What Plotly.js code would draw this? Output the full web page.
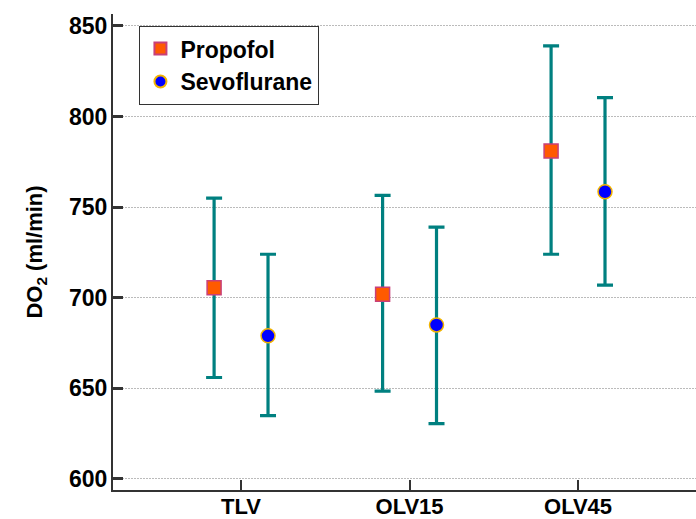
<!DOCTYPE html>
<html><head><meta charset="utf-8">
<script src="https://cdn.plot.ly/plotly-3.0.1.min.js"></script>
<style>body{margin:0;background:#fff}#c{width:696px;height:519px}</style>
</head><body><div id="c"></div>
<script>
const categories = ["TLV", "OLV15", "OLV45"];
const propofolMean = [705.5, 702, 781];
const propofolUpper = [755, 756.5, 839];
const propofolLower = [656, 648.5, 724];
const sevoMean = [679, 685, 758.5];
const sevoUpper = [724, 739, 810.5];
const sevoLower = [635, 630.5, 707];
const yTicks = [600, 650, 700, 750, 800, 850];

const pos = categories.map((c, i) => i + 1);
const off = 0.16;
function errs(mean, up, lo) {
  return {
    type: 'data', symmetric: false,
    array: mean.map((m, i) => up[i] - m),
    arrayminus: mean.map((m, i) => m - lo[i]),
    color: '#008080', thickness: 3.2, width: 8
  };
}
const traces = [
  {
    x: pos.map(p => p - off), y: propofolMean, name: 'Propofol', mode: 'markers', type: 'scatter',
    marker: {symbol: 'square', size: 14, color: '#FF5A00', line: {color: '#C8407A', width: 1.5}},
    error_y: errs(propofolMean, propofolUpper, propofolLower)
  },
  {
    x: pos.map(p => p + off), y: sevoMean, name: 'Sevoflurane', mode: 'markers', type: 'scatter',
    marker: {symbol: 'circle', size: 14, color: '#0000FF', line: {color: '#F2B400', width: 1.5}},
    error_y: errs(sevoMean, sevoUpper, sevoLower)
  }
];
const layout = {
  width: 696, height: 519,
  margin: {l: 113, r: 0, t: 14, b: 29},
  paper_bgcolor: '#fff', plot_bgcolor: '#fff',
  font: {family: 'Liberation Sans, Arial, sans-serif', color: '#000'},
  showlegend: true,
  legend: {
    x: 0.045, y: 0.975, xanchor: 'left', yanchor: 'top',
    bordercolor: '#333', borderwidth: 1.2, bgcolor: '#fff',
    font: {size: 23, family: 'Liberation Sans, Arial, sans-serif', weight: 'bold'},
    tracegroupgap: 0, itemsizing: 'constant'
  },
  xaxis: {
    range: [0.24, 3.70], tickvals: pos, ticktext: categories,
    showgrid: false, zeroline: false,
    showline: true, linecolor: '#333', linewidth: 2,
    ticks: 'inside', ticklen: 10, tickwidth: 2, tickcolor: '#333',
    ticklabelstandoff: -4,
    tickfont: {size: 22, weight: 'bold'}
  },
  yaxis: {
    range: [593.9, 856.6], tickvals: yTicks,
    showgrid: true, gridcolor: '#bbb', griddash: '1.5px,1.5px', gridwidth: 1,
    zeroline: false,
    showline: true, linecolor: '#333', linewidth: 2,
    ticks: 'inside', ticklen: 10, tickwidth: 2.5, tickcolor: '#333',
    ticklabelstandoff: -1,
    tickfont: {size: 23, weight: 'bold'},
    title: {text: 'DO<sub>2</sub> (ml/min)', font: {size: 22, weight: 'bold'}, standoff: 20}
  }
};
Plotly.newPlot('c', traces, layout, {displayModeBar: false});
</script></body></html>
